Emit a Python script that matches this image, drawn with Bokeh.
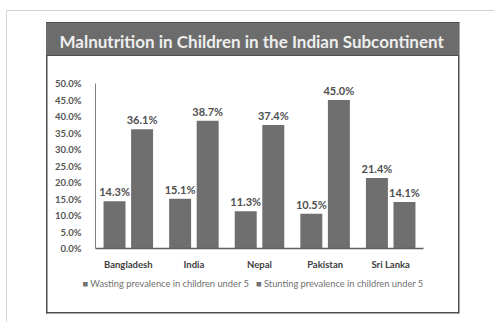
from bokeh.plotting import figure
from bokeh.models import (FactorRange, Range1d, ColumnDataSource, Title,
                          FixedTicker, PrintfTickFormatter, LabelSet)
from bokeh.core.properties import value
from bokeh.transform import dodge
from bokeh.embed import file_html
from bokeh.resources import INLINE

title = "Malnutrition in Children in the Indian Subcontinent"
countries = ["Bangladesh", "India", "Nepal", "Pakistan", "Sri Lanka"]
wasting = [14.3, 15.1, 11.3, 10.5, 21.4]
stunting = [36.1, 38.7, 37.4, 45.0, 14.1]
series_names = ["Wasting prevalence in children under 5", "Stunting prevalence in children under 5"]
y_ticks = [0, 5, 10, 15, 20, 25, 30, 35, 40, 45, 50]

FONT = "Lato"
BAR = "#6f6f6f"

src = ColumnDataSource(dict(
    country=countries,
    wasting=wasting,
    stunting=stunting,
    wlab=[f"{v:.1f}%" for v in wasting],
    slab=[f"{v:.1f}%" for v in stunting],
))


def strip(color, x, y, w, h):
    return f"linear-gradient({color},{color}) {x}px {y}px / {w}px {h}px no-repeat"


# page frame, chart box and title bar drawn as CSS background behind a transparent canvas
layers = [
    strip("#6c6c6c", 46, 23, 413, 32),      # title bar
    strip("#4e4e4e", 46, 55, 413, 1),
    strip("#4e4e4e", 46, 22, 413, 1.5),     # chart box
    strip("#4e4e4e", 46, 312, 413, 1.5),
    strip("#4e4e4e", 45.5, 22, 1.5, 291.5),
    strip("#4e4e4e", 458, 22, 1.5, 291.5),
    strip("#d0d0d0", 6, 10, 488, 1),        # page frame
    strip("#d8d8d8", 6, 10, 1, 312),
]
bg = ", ".join(layers) + ", #ffffff"

p = figure(width=494, height=322, output_backend="svg", toolbar_location=None,
           title=title,
           x_range=FactorRange(factors=countries, range_padding=0, factor_padding=0),
           y_range=Range1d(0, 50),
           min_border_left=95, min_border_right=71, min_border_top=83, min_border_bottom=74,
           styles={"background": bg})
p.background_fill_color = None
p.border_fill_color = None
p.outline_line_color = None
p.xgrid.grid_line_color = None
p.ygrid.grid_line_color = None

p.title.align = "left"
p.title.vertical_align = "top"
p.title.offset = -36
p.title.standoff = 60
p.title.text_font = FONT
p.title.text_font_style = "bold"
p.title.text_font_size = "17px"
p.title.text_color = "#eeeeee"

w = 0.335
r1 = p.vbar(x=dodge("country", -0.21, range=p.x_range), top="wasting", width=w, source=src,
            fill_color=BAR, line_color=None)
r2 = p.vbar(x=dodge("country", 0.21, range=p.x_range), top="stunting", width=w, source=src,
            fill_color=BAR, line_color=None)

for col, lab, off in (("wasting", "wlab", -0.21), ("stunting", "slab", 0.21)):
    p.add_layout(LabelSet(x=dodge("country", off, range=p.x_range), y=col, text=lab, source=src,
                          text_align="center", text_baseline="bottom", y_offset=3,
                          text_font=value(FONT), text_font_style="bold", text_font_size="11px",
                          text_color="#505050"))

p.yaxis.ticker = FixedTicker(ticks=y_ticks)
p.yaxis.formatter = PrintfTickFormatter(format="%.1f%%")
p.yaxis.major_tick_line_color = None
p.yaxis.minor_tick_line_color = None
p.yaxis.axis_line_color = "#808080"
p.yaxis.major_label_standoff = 8
p.yaxis.major_label_text_font = FONT
p.yaxis.major_label_text_font_style = "bold"
p.yaxis.major_label_text_font_size = "9.5px"
p.yaxis.major_label_text_color = "#555555"

p.xaxis.major_tick_line_color = None
p.xaxis.minor_tick_line_color = None
p.xaxis.axis_line_color = "#606060"
p.xaxis.axis_line_width = 1.5
p.xaxis.major_label_standoff = 4
p.xaxis.major_label_text_font = FONT
p.xaxis.major_label_text_font_style = "bold"
p.xaxis.major_label_text_font_size = "9.5px"
p.xaxis.major_label_text_color = "#404040"

# series key, set as a text line beneath the category axis
gap = "\u00a0\u00a0\u00a0"
key_text = gap.join("\u25a0\u00a0" + s for s in series_names)
p.add_layout(Title(text=key_text, align="left", offset=-13, standoff=6,
                   text_font=FONT, text_font_style="normal", text_font_size="9.3px",
                   text_color="#707070"), "below")

open("out.html", "w").write(file_html(p, INLINE))
